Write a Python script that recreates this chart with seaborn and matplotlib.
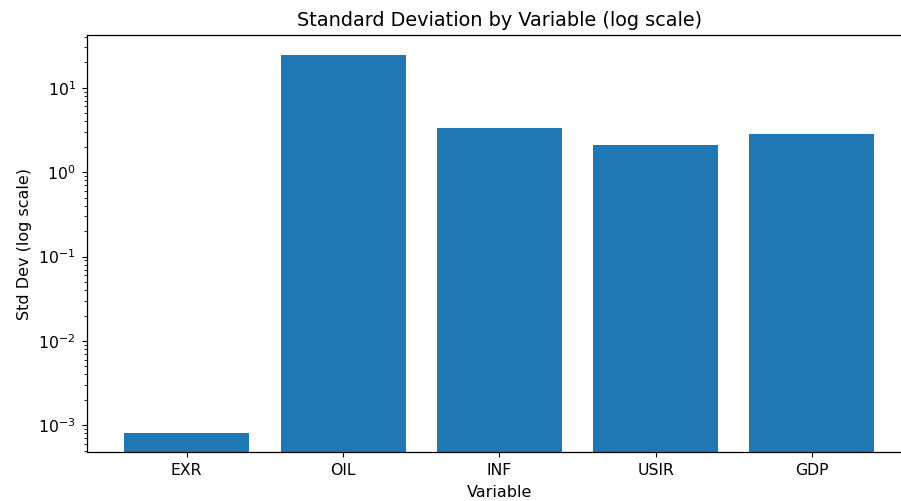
import matplotlib
matplotlib.use("Agg")
import matplotlib.pyplot as plt
import seaborn as sns
import pandas as pd

variables = ["EXR", "OIL", "INF", "USIR", "GDP"]
std_devs = [0.000803, 24.6, 3.29, 2.11, 2.82]

df = pd.DataFrame({"Variable": variables, "Std": std_devs})

k = 1.13
plt.rcParams.update({
    "xtick.major.size": 3.5 * k, "ytick.major.size": 3.5 * k,
    "xtick.minor.size": 2 * k, "ytick.minor.size": 2 * k,
    "xtick.major.pad": 3.5 * k, "ytick.major.pad": 3.5 * k,
    "axes.labelpad": 4 * k, "axes.titlepad": 6 * k,
    "xtick.labelsize": 10 * k, "ytick.labelsize": 10 * k,
    "axes.linewidth": 0.8 * k,
})

W, H = 901, 501
fig = plt.figure(figsize=(W / 100, H / 100), dpi=100)
left, right, top, bottom = 86.7, 912.0, 35.0, 452.3
ax = fig.add_axes([left / W, 1 - bottom / H, (right - left) / W, (bottom - top) / H])
sns.barplot(data=df, x="Variable", y="Std", color="#1f77b4", saturation=1,
            width=0.8, ax=ax)
ax.set_yscale("log")
ax.set_xlim(-0.64, 4.64)
ax.set_ylim(10 ** -3.32, 10 ** 1.625)
ax.set_title("Standard Deviation by Variable (log scale)", fontsize=13.9)
ax.set_xlabel("Variable", fontsize=11.5)
ax.set_ylabel("Std Dev (log scale)", fontsize=11.5)
fig.savefig("out.png", dpi=100)
